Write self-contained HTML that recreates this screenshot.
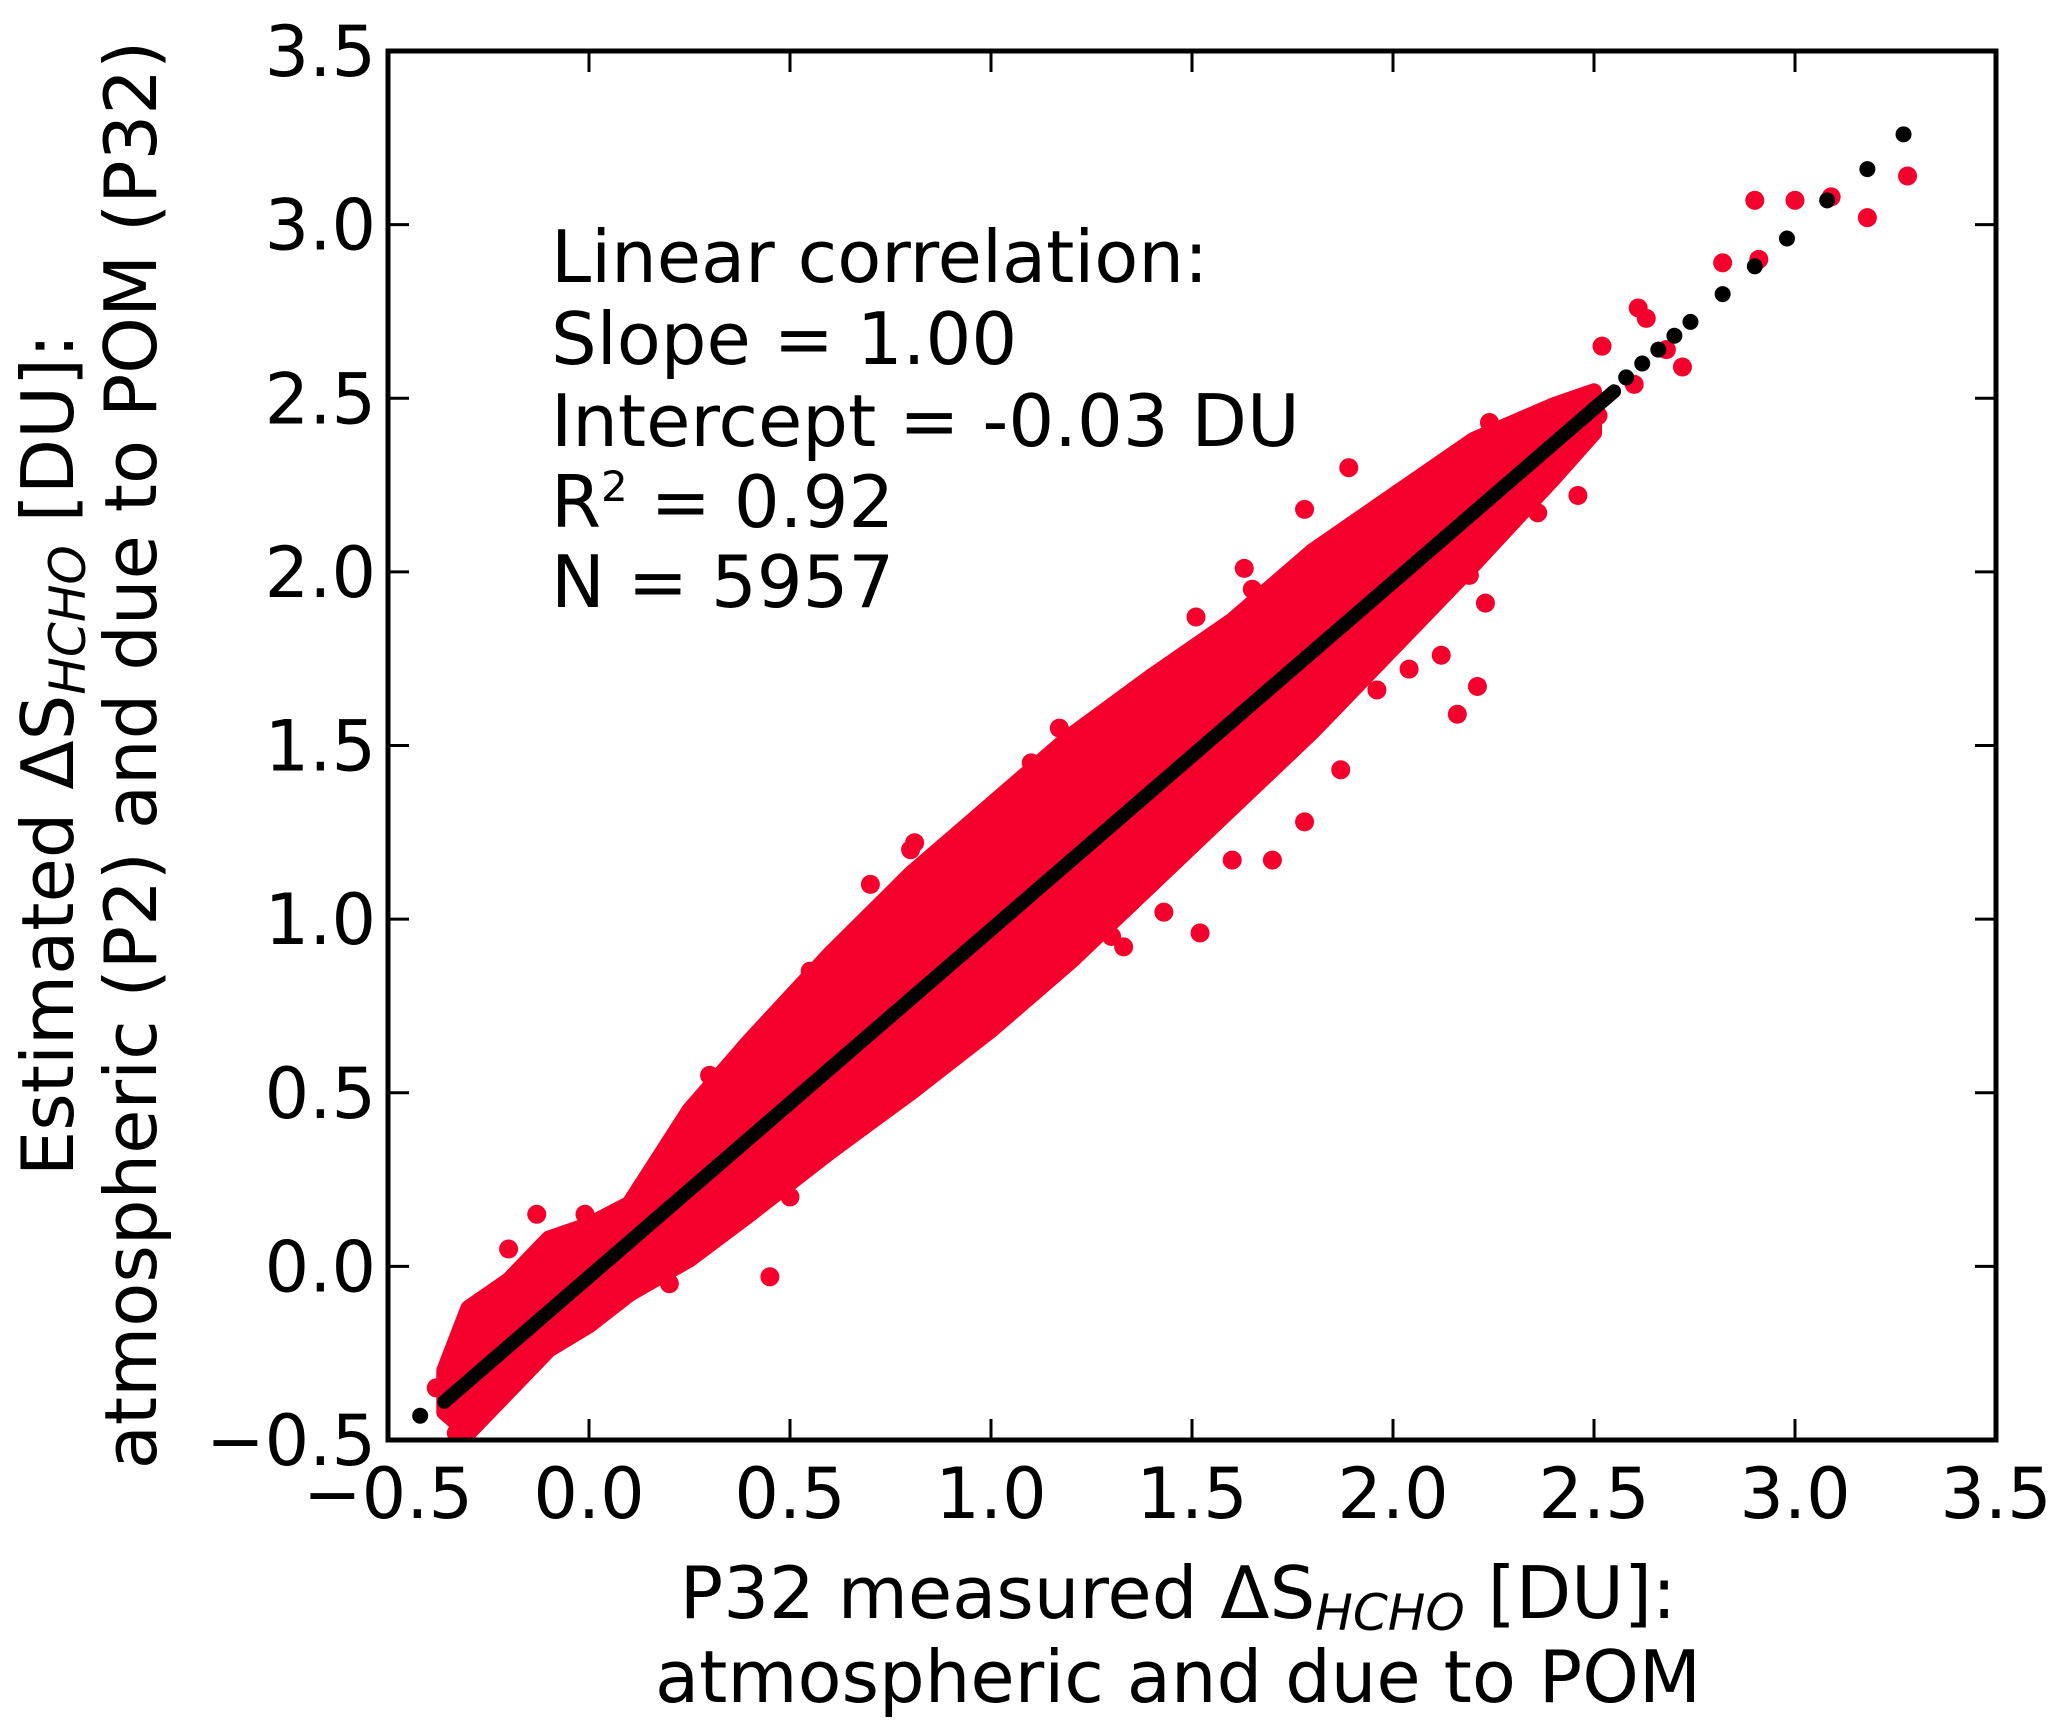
<!DOCTYPE html>
<html><head><meta charset="utf-8"><style>
html,body{margin:0;padding:0;background:#fff;}
svg{display:block;font-family:"DejaVu Sans","Liberation Sans",sans-serif;}
</style></head><body>
<svg id="chart" width="2067" height="1730" viewBox="0 0 2067 1730" xmlns="http://www.w3.org/2000/svg">
<rect width="2067" height="1730" fill="#fff"/>
<g id="plot"></g>
<g id="axes"></g>
<g font-size="72" fill="#000">
<text x="551" y="282">Linear correlation:</text>
<text x="551" y="364">Slope = 1.00</text>
<text x="551" y="446">Intercept = -0.03 DU</text>
<text x="551" y="527">R<tspan font-size="42" dy="-26">2</tspan><tspan dy="26">  = 0.92</tspan></text>
<text x="551" y="607">N = 5957</text>
</g>
<g font-size="72" text-anchor="middle">
<text x="1178" y="1618">P32 measured ΔS<tspan font-size="50" font-style="italic" dy="12">HCHO</tspan><tspan dy="-12"> [DU]:</tspan></text>
<text x="1178" y="1702">atmospheric and due to POM</text>
</g>
<g font-size="72" text-anchor="middle" transform="translate(0,755) rotate(-90)">
<text x="0" y="73">Estimated ΔS<tspan font-size="50" font-style="italic" dy="12">HCHO</tspan><tspan dy="-12"> [DU]:</tspan></text>
<text x="0" y="156">atmospheric (P2) and due to POM (P32)</text>
</g>
</svg>
<script>
const xTicks=[-0.5,0.0,0.5,1.0,1.5,2.0,2.5,3.0,3.5];
const yTicks=[-0.5,0.0,0.5,1.0,1.5,2.0,2.5,3.0,3.5];
const xTickLabels=["\u22120.5","0.0","0.5","1.0","1.5","2.0","2.5","3.0","3.5"];
const yTickLabels=["\u22120.5","0.0","0.5","1.0","1.5","2.0","2.5","3.0","3.5"];
// dense red cloud envelope
const cloudX=[-0.36,-0.3,-0.2,-0.1,0.0,0.1,0.25,0.4,0.6,0.8,1.0,1.2,1.4,1.6,1.8,2.0,2.2,2.4,2.5];
const cloudLow=[-0.42,-0.48,-0.36,-0.24,-0.17,-0.08,0.02,0.15,0.33,0.5,0.68,0.88,1.1,1.32,1.54,1.78,2.02,2.27,2.4];
const cloudHigh=[-0.3,-0.12,-0.04,0.08,0.12,0.18,0.45,0.65,0.9,1.13,1.33,1.53,1.7,1.86,2.06,2.22,2.38,2.48,2.52];
// scattered red points
const redX=[2.82,2.91,2.9,3.0,3.09,3.18,3.28,2.52,2.61,2.63,2.72,2.68,2.46,2.36,2.24,2.12,2.19,2.12,2.21,2.16,2.04,1.89,1.89,1.78,1.63,1.51,1.78,1.87,1.52,1.43,1.33,1.26,1.17,1.04,0.91,0.81,0.45,0.32,-0.01,-0.13,-0.38,-0.28,2.51,2.42,2.3,2.6,2.18,2.03,2.23,1.99,1.96,1.7,1.6,1.41,1.1,0.7,0.55,0.2,-0.2,-0.33,0.8,0.3,1.3,1.65,0.9,0.5];
const redY=[2.89,2.9,3.07,3.07,3.08,3.02,3.14,2.65,2.76,2.73,2.59,2.64,2.22,2.17,2.43,2.12,1.99,1.76,1.67,1.59,1.72,2.12,2.3,2.18,2.01,1.87,1.28,1.43,0.96,1.02,0.92,1.56,1.55,0.98,0.75,1.22,-0.03,0.1,0.15,0.15,-0.35,-0.45,2.45,2.35,2.35,2.54,2.31,2.14,1.91,1.89,1.66,1.17,1.17,1.28,1.45,1.1,0.85,-0.05,0.05,-0.48,1.2,0.55,0.95,1.95,0.6,0.2];
// fit line and sparse black points
const fitSlope=1.00, fitIntercept=-0.03, fitXmin=-0.36, fitXmax=2.55;
const blackX=[-0.42,2.58,2.62,2.66,2.7,2.74,2.82,2.9,2.98,3.08,3.18,3.27];
const blackY=[-0.43,2.56,2.6,2.64,2.68,2.72,2.8,2.88,2.96,3.07,3.16,3.26];

const L=388,R=1996,T=51,B=1440,xMin=-0.5,xMax=3.5,yMin=-0.5,yMax=3.5;
const sx=v=>L+(v-xMin)/(xMax-xMin)*(R-L);
const sy=v=>B-(v-yMin)/(yMax-yMin)*(B-T);
const NS="http://www.w3.org/2000/svg";
const plot=document.getElementById('plot'),axes=document.getElementById('axes');
function mk(tag,attrs,parent){const e=document.createElementNS(NS,tag);for(const k in attrs)e.setAttribute(k,attrs[k]);parent.appendChild(e);return e;}
const RED="#f5002d";
let pts=[];
for(let i=0;i<cloudX.length;i++)pts.push(sx(cloudX[i])+","+sy(cloudHigh[i]));
for(let i=cloudX.length-1;i>=0;i--)pts.push(sx(cloudX[i])+","+sy(cloudLow[i]));
const cloud=mk('polygon',{points:pts.join(' '),fill:RED,stroke:RED,'stroke-width':16,'stroke-linejoin':'round'},plot);


for(let i=0;i<redX.length;i++){
  const c=mk('circle',{cx:sx(redX[i]),cy:sy(redY[i]),r:9.5,fill:RED},plot);
  
  
}
const fl=mk('line',{x1:sx(fitXmin),y1:sy(fitSlope*fitXmin+fitIntercept),x2:sx(fitXmax),y2:sy(fitSlope*fitXmax+fitIntercept),stroke:'#000','stroke-width':14,'stroke-linecap':'round'},plot);


for(let i=0;i<blackX.length;i++){
  const c=mk('circle',{cx:sx(blackX[i]),cy:sy(blackY[i]),r:8,fill:'#000'},plot);
  
  
}
const fr=mk('rect',{x:L,y:T,width:R-L,height:B-T,fill:'none',stroke:'#000','stroke-width':5},axes);


xTicks.forEach((v,i)=>{
  const x=sx(v);
  if(i>0&&i<xTicks.length-1){
    mk('line',{x1:x,y1:B,x2:x,y2:B-21,stroke:'#000','stroke-width':3},axes);
    mk('line',{x1:x,y1:T,x2:x,y2:T+21,stroke:'#000','stroke-width':3},axes);
  }
  const t=mk('text',{x:x,y:B+78,'font-size':70,'text-anchor':'middle'},axes);
  t.textContent=xTickLabels[i];
  
  
});
yTicks.forEach((v,i)=>{
  const y=sy(v);
  if(i>0&&i<yTicks.length-1){
    mk('line',{x1:L,y1:y,x2:L+21,y2:y,stroke:'#000','stroke-width':3},axes);
    mk('line',{x1:R,y1:y,x2:R-21,y2:y,stroke:'#000','stroke-width':3},axes);
  }
  const t=mk('text',{x:L-12,y:y+25,'font-size':70,'text-anchor':'end'},axes);
  t.textContent=yTickLabels[i];
  
  
});
</script>
</body></html>
